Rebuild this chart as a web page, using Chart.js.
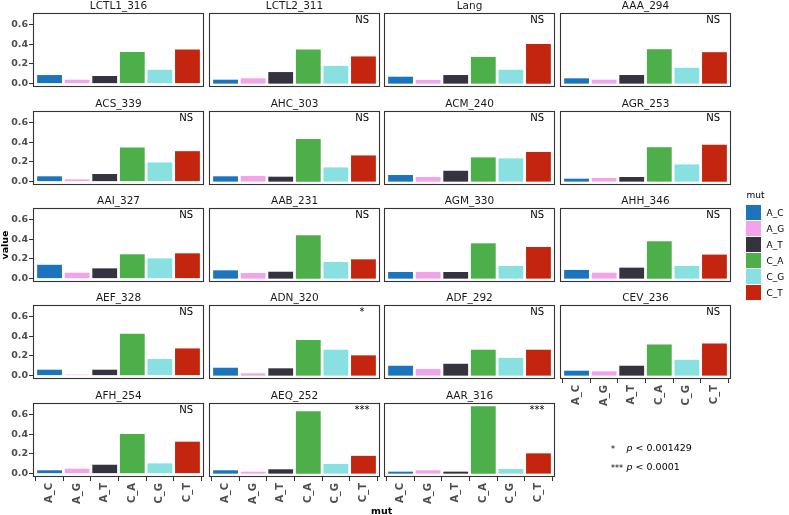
<!DOCTYPE html>
<html><head><meta charset="utf-8">
<script src="https://cdn.jsdelivr.net/npm/chart.js@4.4.1/dist/chart.umd.min.js"></script>
<style>
html,body{margin:0;padding:0;background:#fff;}
body{width:789px;height:515px;position:relative;overflow:hidden;font-family:"DejaVu Sans",sans-serif;}
canvas{position:absolute;}
.t{position:absolute;white-space:nowrap;line-height:1;}
</style></head><body>
<script>
// ---- data ----
const panelNames=['LCTL1_316','LCTL2_311','Lang','AAA_294',
 'ACS_339','AHC_303','ACM_240','AGR_253',
 'AAI_327','AAB_231','AGM_330','AHH_346',
 'AEF_328','ADN_320','ADF_292','CEV_236',
 'AFH_254','AEQ_252','AAR_316'];
const categories=['A_C','A_G','A_T','C_A','C_G','C_T'];
const colors=['#1c75bc','#f2a4ea','#35333f','#4daf4a','#88e1e0','#c4250f'];
const valAC=[0.087,0.040,0.070,0.054, 0.054,0.054,0.067,0.030, 0.140,0.084,0.067,0.088, 0.060,0.080,0.100,0.050, 0.034,0.034,0.020];
const valAG=[0.040,0.054,0.037,0.040, 0.023,0.057,0.047,0.037, 0.060,0.057,0.067,0.060, 0.010,0.023,0.067,0.044, 0.050,0.020,0.034];
const valAT=[0.077,0.117,0.087,0.087, 0.077,0.050,0.110,0.047, 0.104,0.070,0.067,0.111, 0.060,0.074,0.120,0.100, 0.090,0.044,0.020];
const valCA=[0.320,0.345,0.270,0.348, 0.345,0.430,0.245,0.348, 0.246,0.438,0.357,0.377, 0.423,0.360,0.262,0.315, 0.400,0.630,0.680];
const valCG=[0.140,0.180,0.140,0.160, 0.194,0.144,0.235,0.174, 0.205,0.168,0.128,0.128, 0.168,0.262,0.180,0.160, 0.104,0.098,0.047];
const valCT=[0.345,0.275,0.400,0.318, 0.308,0.265,0.300,0.372, 0.256,0.195,0.320,0.243, 0.275,0.205,0.262,0.325, 0.323,0.180,0.205];
const sigLabels=['','NS','NS','NS', 'NS','NS','NS','NS', 'NS','NS','NS','NS', 'NS','*','NS','NS', 'NS','***','***'];
const yTicks=[0,0.2,0.4,0.6];
const pStars=['*','***'];
const pTexts=['< 0.001429','< 0.0001'];

const series=[valAC,valAG,valAT,valCA,valCG,valCT];
const allVals=series.flat();
const dMax=Math.max(...allVals);
const yLo=-0.05*dMax, yHi=dMax*1.05;

const FONT='"DejaVu Sans", sans-serif';

function addText(txt,x,y,css,html){
  const d=document.createElement('div');
  d.className='t';
  if(html) d.innerHTML=txt; else d.textContent=txt;
  d.style.left=x+'px'; d.style.top=y+'px';
  Object.assign(d.style,css||{});
  document.body.appendChild(d);
  return d;
}

const panelDeco={
  id:'panelDeco',
  afterDatasetsDraw(chart,args,opts){
    const {ctx,chartArea:a,scales}=chart;
    ctx.save();
    ctx.strokeStyle='#333333'; ctx.lineWidth=1.1;
    ctx.strokeRect(a.left+0.5,a.top+0.5,a.right-a.left-1,a.bottom-a.top-1);
    if(opts.sig){
      ctx.fillStyle='#000';
      ctx.font='10px '+FONT;
      ctx.textAlign='center'; ctx.textBaseline='middle';
      ctx.fillText(opts.sig,scales.x.getPixelForValue(4.95),scales.y.getPixelForValue(0.635));
    }
    ctx.restore();
  }
};

const N=panelNames.length;
for(let i=0;i<N;i++){
  const r=Math.floor(i/4), c=i%4;
  const L=Math.round(32.7+c*175.8), T=Math.round(13.3+r*97.35), W=171, H=74;
  const first=c===0;
  const bottom=(i+4)>=N;
  const padL=first?0:4, yW=first?L:0, padT=6, padR=4, xH=bottom?36:0, padB=bottom?0:6;
  const cw=padL+yW+W+padR, ch=padT+H+xH+padB;
  const cv=document.createElement('canvas');
  cv.width=cw; cv.height=ch;
  cv.style.left=(L-yW-padL)+'px'; cv.style.top=(T-padT)+'px';
  cv.style.width=cw+'px'; cv.style.height=ch+'px';
  document.body.appendChild(cv);
  addText(panelNames[i],L+W/2,T-8.5,{fontSize:'10.5px',color:'#1a1a1a',transform:'translate(-50%,-50%)'});
  const vals=series.map(s=>s[i]);
  new Chart(cv,{
    type:'bar',
    data:{datasets:[{data:vals.map((v,k)=>({x:k,y:v})),backgroundColor:colors,borderWidth:0,barPercentage:0.9,categoryPercentage:1.0}]},
    options:{
      responsive:false,animation:false,devicePixelRatio:1,
      layout:{padding:{left:padL,top:padT,right:padR,bottom:padB}},
      plugins:{legend:{display:false},tooltip:{enabled:false},title:{display:false},
        panelDeco:{sig:sigLabels[i]}},
      scales:{
        x:{type:'linear',min:-0.6,max:5.6,display:bottom,offset:false,
          afterBuildTicks:s=>{s.ticks=categories.map((_,k)=>({value:k}));},
          afterFit:s=>{s.height=xH;s.paddingLeft=0;s.paddingRight=0;},
          ticks:{minRotation:90,maxRotation:90,autoSkip:false,padding:2,color:'#4d4d4d',
            font:{family:FONT,size:10,weight:'bold'},callback:(v)=>categories[Math.round(v)]},
          grid:{display:true,drawOnChartArea:false,drawTicks:true,tickLength:4,color:'#333333',lineWidth:1},
          border:{display:false}},
        y:{type:'linear',min:yLo,max:yHi,display:first,
          afterBuildTicks:s=>{s.ticks=yTicks.map(v=>({value:v}));},
          afterFit:s=>{s.width=yW;s.paddingTop=0;s.paddingBottom=0;},
          ticks:{padding:1,color:'#4d4d4d',font:{family:FONT,size:9.5,weight:'bold'},callback:(v)=>Number(v).toFixed(1)},
          grid:{display:true,drawOnChartArea:false,drawTicks:true,tickLength:4,color:'#333333',lineWidth:1},
          border:{display:false}}
      }
    },
    plugins:[panelDeco]
  });
}

// ---- axis titles & legends ----
addText('value',5,245,{fontSize:'9.5px',fontWeight:'bold',color:'#000',transform:'translate(-50%,-50%) rotate(-90deg)'});
addText('mut',381.7,510.5,{fontSize:'9.5px',fontWeight:'bold',color:'#000',transform:'translate(-50%,-50%)'});

addText('mut',746.5,195,{fontSize:'9px',color:'#000',transform:'translateY(-50%)'});
categories.forEach((cat,k)=>{
  const top=205+k*16;
  const sw=document.createElement('div');
  sw.style.cssText='position:absolute;left:746px;top:'+top+'px;width:15px;height:15px;background:'+colors[k]+';';
  document.body.appendChild(sw);
  addText(cat,766.5,top+7.5,{fontSize:'9px',color:'#000',transform:'translateY(-50%)'});
});

pStars.forEach((s,k)=>{
  const cy=448.3+k*19;
  addText(s,611,cy+2,{fontSize:'8px',color:'#000',transform:'translateY(-50%)'});
  addText('<i>p</i> '+pTexts[k],626.5,cy,{fontSize:'9.5px',color:'#000',transform:'translateY(-50%)'},true);
});
</script>
</body></html>
